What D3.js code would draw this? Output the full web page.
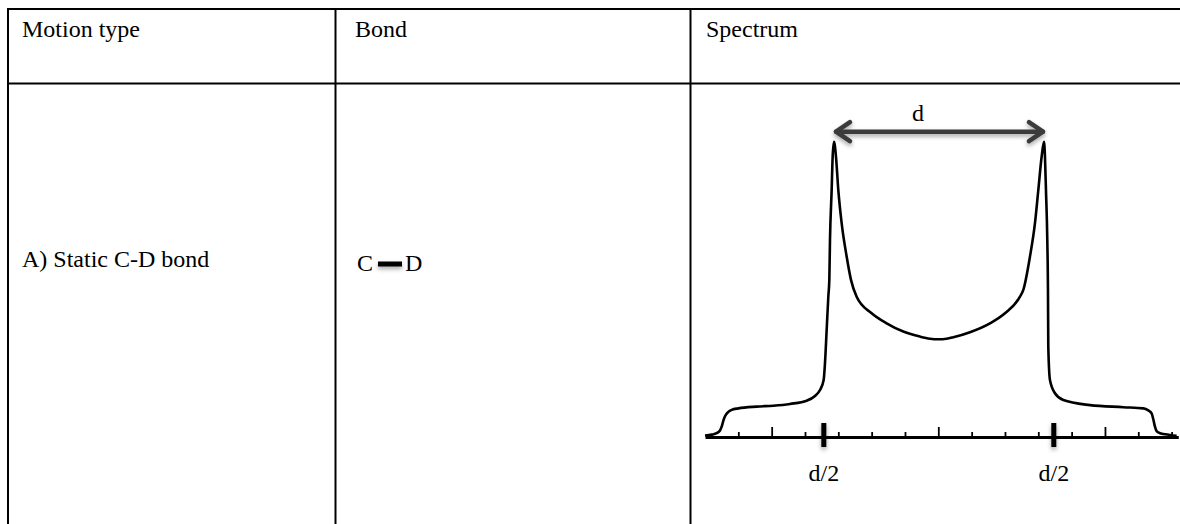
<!DOCTYPE html>
<html>
<head>
<meta charset="utf-8">
<script src="https://cdn.jsdelivr.net/npm/d3@7"></script>
<style>
  html, body { margin: 0; padding: 0; background: #fff; }
  svg { display: block; }
</style>
</head>
<body>
<svg id="chart" width="1180" height="524"></svg>
<script>
// Table content
const headers = ["Motion type", "Bond", "Spectrum"];
const motionTypes = ["A) Static C-D bond"];
const bondAtoms = ["C", "D"];

// Deuterium powder spectrum (Pake doublet), frequency in tick units, intensity relative to the horns
const specFreq = [
  -7.00, -6.80, -6.65, -6.55, -6.50, -6.45, -6.40, -6.30, -6.20, -6.00,
  -5.45, -4.95, -4.45, -3.95, -3.70, -3.55, -3.44, -3.40, -3.35, -3.30,
  -3.27, -3.25, -3.20, -3.17, -3.13, -3.07, -3.00, -2.90, -2.75, -2.62,
  -2.45, -2.00, -1.55, -1.05, -0.55, -0.25, 0.00,
  0.25, 0.45, 0.95, 1.55, 2.00, 2.45, 2.55, 2.75, 2.90, 3.00, 3.10,
  3.17, 3.20, 3.23, 3.27, 3.29, 3.30, 3.35, 3.50, 3.75, 4.55,
  5.55, 6.15, 6.30, 6.40, 6.45, 6.50, 6.55, 6.65, 6.95, 7.15
];
const specIntensity = [
  0.005, 0.008, 0.013, 0.022, 0.035, 0.055, 0.070, 0.085, 0.092, 0.097,
  0.103, 0.106, 0.112, 0.123, 0.139, 0.159, 0.193, 0.250, 0.362, 0.475,
  0.532, 0.667, 0.836, 0.949, 1.000, 0.949, 0.836, 0.724, 0.611, 0.532,
  0.475, 0.419, 0.385, 0.357, 0.340, 0.333, 0.331,
  0.333, 0.338, 0.355, 0.385, 0.419, 0.475, 0.498, 0.611, 0.724, 0.836, 0.949,
  1.000, 0.949, 0.836, 0.667, 0.498, 0.306, 0.193, 0.148, 0.125, 0.108,
  0.101, 0.097, 0.090, 0.080, 0.060, 0.035, 0.020, 0.013, 0.007, 0.004
];

// Axis ticks
const minorTicks = [-6, -4, -3, -2, -1, 1, 2, 3, 4, 6, 7];
const midTicks = [-5, 0, 5];
const halfSplitTicks = [-3.45, 3.45];
const halfSplitLabels = ["d/2", "d/2"];
const splittingLabel = "d";

// ---- layout ----
const svg = d3.select("#chart");
const W = 1180, H = 524;
const tableLeft = 8, tableTop = 9, headerBottom = 83.5;
const colX = [8, 335.5, 690.5];
const fontSize = 24;
const serif = "'Liberation Serif', 'Times New Roman', Times, 'DejaVu Serif', serif";

svg.append("rect").attr("width", W).attr("height", H).attr("fill", "#fff");

// soft drop shadow; region is generous so it works inside translated groups too
const defs = svg.append("defs");
const shadow = defs.append("filter").attr("id", "soft-shadow")
  .attr("filterUnits", "userSpaceOnUse")
  .attr("x", -2 * W).attr("y", -2 * H).attr("width", 4 * W).attr("height", 4 * H);
shadow.append("feDropShadow").attr("dx", 0).attr("dy", 2.5).attr("stdDeviation", 2)
  .attr("flood-color", "#000").attr("flood-opacity", 0.35);

// table grid
const grid = svg.append("g").attr("stroke", "#000").attr("stroke-width", 2);
grid.append("line").attr("x1", tableLeft - 1).attr("x2", W).attr("y1", tableTop).attr("y2", tableTop);
grid.append("line").attr("x1", tableLeft - 1).attr("x2", W).attr("y1", headerBottom).attr("y2", headerBottom);
colX.forEach(x => grid.append("line").attr("x1", x).attr("x2", x).attr("y1", tableTop - 1).attr("y2", H));

const txt = (sel) => sel.attr("font-family", serif).attr("font-size", fontSize).attr("fill", "#000");

// header texts
const headerX = [22, 355, 706];
svg.append("g").selectAll("text").data(headers).join("text")
  .attr("x", (d, i) => headerX[i]).attr("y", 37)
  .call(txt).text(d => d);

// motion type text
svg.append("text").attr("x", 22).attr("y", 267).call(txt).text(motionTypes[0]);

// bond sketch: C — D
const bond = svg.append("g");
bond.append("text").attr("x", 357).attr("y", 271).call(txt).text(bondAtoms[0]);
bond.append("line").attr("x1", 378).attr("x2", 402).attr("y1", 264).attr("y2", 264)
  .attr("stroke", "#000").attr("stroke-width", 5).attr("filter", "url(#soft-shadow)");
bond.append("text").attr("x", 405).attr("y", 271).call(txt).text(bondAtoms[1]);

// ---- spectrum ----
const axisY = 437;
const x = d3.scaleLinear().domain([-7, 7.2]).range([705, 705 + 14.2 * 33.33]);
const y = d3.scaleLinear().domain([0, 1]).range([axisY, 141.7]);

const spec = svg.append("g");

// baseline with short ticks pointing up
const minorAxis = spec.append("g").attr("transform", `translate(0,${axisY})`)
  .call(d3.axisTop(x).tickValues(minorTicks).tickSize(5).tickSizeOuter(0).tickFormat(""));
minorAxis.select(".domain").attr("stroke", "#000").attr("stroke-width", 3);
minorAxis.selectAll(".tick line").attr("stroke", "#000").attr("stroke-width", 1.8);

const midAxis = spec.append("g").attr("transform", `translate(0,${axisY})`)
  .call(d3.axisTop(x).tickValues(midTicks).tickSize(10).tickSizeOuter(0).tickFormat(""));
midAxis.select(".domain").remove();
midAxis.selectAll(".tick line").attr("stroke", "#000").attr("stroke-width", 1.8);

// d/2 marks crossing the baseline
const halfAxis = spec.append("g").attr("transform", `translate(0,${axisY})`)
  .call(d3.axisBottom(x).tickValues(halfSplitTicks).tickSize(10).tickSizeOuter(0).tickPadding(17)
    .tickFormat((d, i) => halfSplitLabels[i]));
halfAxis.select(".domain").remove();
halfAxis.attr("font-family", serif).attr("font-size", fontSize);
halfAxis.selectAll(".tick line").attr("y1", -14).attr("stroke", "#000").attr("stroke-width", 5)
  .attr("filter", "url(#soft-shadow)");
halfAxis.selectAll(".tick text").call(txt);

// spectrum line
const pts = specFreq.map((f, i) => [f, specIntensity[i]]);
spec.append("path").datum(pts)
  .attr("fill", "none").attr("stroke", "#000").attr("stroke-width", 2.6).attr("stroke-linejoin", "round")
  .attr("d", d3.line().x(d => x(d[0])).y(d => y(d[1])).curve(d3.curveMonotoneX));

// splitting arrow between the two horns
const leftHorn = pts.filter(p => p[0] < 0).reduce((a, b) => (b[1] > a[1] ? b : a));
const rightHorn = pts.filter(p => p[0] > 0).reduce((a, b) => (b[1] > a[1] ? b : a));
const ax1 = x(leftHorn[0]) + 2, ax2 = x(rightHorn[0]) - 1, ay = y(1) - 10;
const arrow = spec.append("g").attr("stroke", "#3b3b3b").attr("stroke-width", 4.5)
  .attr("stroke-linecap", "round").attr("stroke-linejoin", "round").attr("fill", "none")
  .attr("filter", "url(#soft-shadow)");
arrow.append("line").attr("x1", ax1).attr("x2", ax2).attr("y1", ay).attr("y2", ay);
arrow.append("path").attr("d", `M${ax1 + 14},${ay - 9.5}L${ax1},${ay}L${ax1 + 14},${ay + 9.5}`);
arrow.append("path").attr("d", `M${ax2 - 14},${ay - 9.5}L${ax2},${ay}L${ax2 - 14},${ay + 9.5}`);

spec.append("text").attr("x", 918).attr("y", 120.7).attr("text-anchor", "middle")
  .call(txt).text(splittingLabel);
</script>
</body>
</html>
